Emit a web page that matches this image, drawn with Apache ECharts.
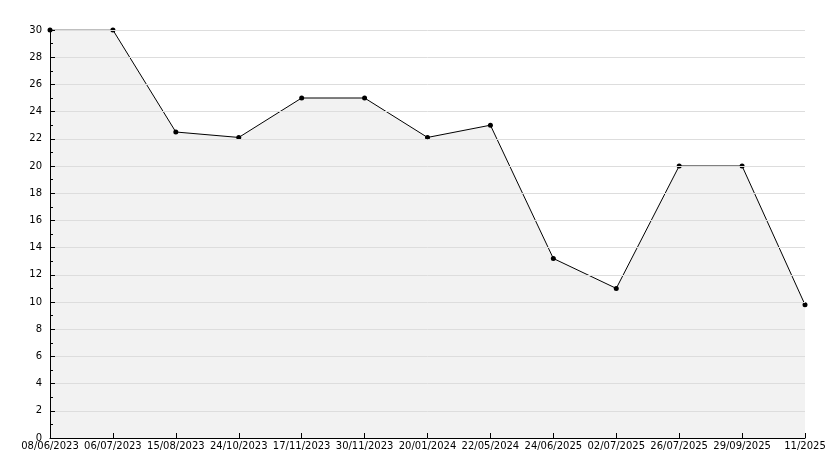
<!DOCTYPE html>
<html>
<head>
<meta charset="utf-8">
<script src="https://cdn.jsdelivr.net/npm/echarts@6/dist/echarts.min.js"></script>
<style>html,body{margin:0;padding:0;background:#fff}#chart{width:834px;height:468px}</style>
</head>
<body>
<div id="chart"></div>
<script>
// dates on the x axis
const dates = ['08/06/2023','06/07/2023','15/08/2023','24/10/2023','17/11/2023','30/11/2023',
  '20/01/2024','22/05/2024','24/06/2025','02/07/2025','26/07/2025','29/09/2025','11/2025'];
// values
const values = [30, 30, 22.5, 22.1, 25, 25, 22.1, 23, 13.2, 11, 20, 20, 9.8];

const chart = echarts.init(document.getElementById('chart'));
chart.setOption({
  animation: false,
  grid: {left: 50, right: 29, top: 30, bottom: 30},
  xAxis: {
    type: 'category',
    data: dates,
    boundaryGap: false,
    z: 10,
    axisLine: {lineStyle: {color: '#000', width: 1}},
    axisTick: {inside: true, length: 5, alignWithLabel: true, lineStyle: {color: '#000'}},
    axisLabel: {color: '#000', fontSize: 10, fontFamily: 'DejaVu Sans', margin: 3, interval: 0},
    splitLine: {show: false}
  },
  yAxis: {
    type: 'value',
    min: 0, max: 30, interval: 2,
    z: 10,
    axisLine: {show: true, lineStyle: {color: '#000', width: 1}},
    axisTick: {show: true, inside: true, length: 5, lineStyle: {color: '#000'}},
    minorTick: {show: true, splitNumber: 2, length: 3, lineStyle: {color: '#000'}},
    axisLabel: {color: '#000', fontSize: 10, fontFamily: 'DejaVu Sans', margin: 8},
    splitLine: {show: true, lineStyle: {color: '#ddd', width: 1}}
  },
  series: [{
    type: 'line',
    data: values,
    z: 2,
    symbol: 'circle',
    symbolSize: 5,
    itemStyle: {color: '#000'},
    lineStyle: {color: '#000', width: 1},
    areaStyle: {color: '#f2f2f2', opacity: 1}
  }]
});
</script>
</body>
</html>
